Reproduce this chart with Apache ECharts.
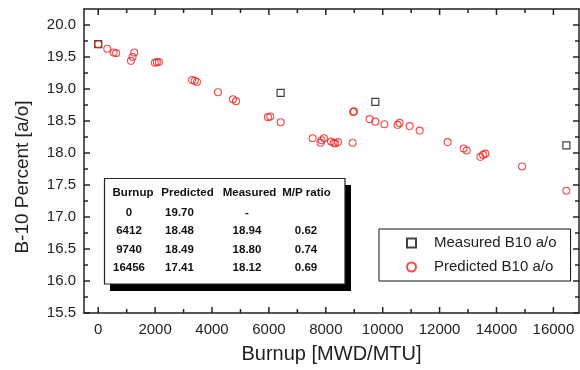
<!DOCTYPE html>
<html>
<head>
<meta charset="utf-8">
<script src="https://cdn.jsdelivr.net/npm/echarts@6/dist/echarts.min.js"></script>
<style>
  html, body { margin: 0; padding: 0; background: #fff; }
  #chart { width: 580px; height: 370px; }
</style>
</head>
<body>
<div id="chart"></div>
<script>
// burnup [MWD/MTU], B-10 percent
const measuredBurnup = [0, 6412, 9740, 16456];
const measuredB10 = [19.70, 18.94, 18.80, 18.12];

const predictedBurnup = [
  0, 316, 540, 630, 1150, 1207, 1266, 1990, 2060, 2130,
  3300, 3390, 3470, 4208, 4736, 4842, 5966, 6048, 6412,
  7535, 7817, 7852, 7935, 8182, 8274, 8333, 8428, 8942, 8960, 8990,
  9540, 9740, 10060, 10524, 10594, 10946, 11297, 12282, 12845, 12951,
  13432, 13526, 13608, 14898, 16456
];
const predictedB10 = [
  19.70, 19.63, 19.57, 19.56, 19.44, 19.50, 19.57, 19.41, 19.42, 19.42,
  19.14, 19.13, 19.11, 18.95, 18.84, 18.81, 18.56, 18.57, 18.48,
  18.23, 18.16, 18.20, 18.23, 18.18, 18.16, 18.15, 18.17, 18.16, 18.64, 18.65,
  18.53, 18.49, 18.45, 18.44, 18.47, 18.42, 18.35, 18.17, 18.07, 18.04,
  17.94, 17.97, 17.99, 17.79, 17.41
];

// tick positions
const xMajorTicks = [0, 2000, 4000, 6000, 8000, 10000, 12000, 14000, 16000];
const xMinorTicks = [1000, 3000, 5000, 7000, 9000, 11000, 13000, 15000];
const yMajorTicks = [15.5, 16.0, 16.5, 17.0, 17.5, 18.0, 18.5, 19.0, 19.5, 20.0];
const yMinorTicks = [15.75, 16.25, 16.75, 17.25, 17.75, 18.25, 18.75, 19.25, 19.75];

// inset table
const tableHeader = ["Burnup", "Predicted", "Measured", "M/P ratio"];
const tableBurnup = ["0", "6412", "9740", "16456"];
const tablePredicted = ["19.70", "18.48", "18.49", "17.41"];
const tableMeasured = ["-", "18.94", "18.80", "18.12"];
const tableRatio = ["", "0.62", "0.74", "0.69"];

const FONT = "Liberation Sans";
const AXIS_COLOR = "#222";
const X_MIN = -500, X_MAX = 16900;
const Y_MIN = 15.5, Y_MAX = 20.25;
const MAJOR = 6, MINOR = 4;

function toPairs(xs, ys) {
  return xs.map((x, i) => [x, ys[i]]);
}

function xAxisDef(position) {
  const labelled = position === "bottom";
  return {
    type: "value",
    position: position,
    min: X_MIN,
    max: X_MAX,
    axisLine: { show: true, onZero: false, lineStyle: { color: AXIS_COLOR, width: 1.5 } },
    axisTick: { show: false },
    axisLabel: {
      show: labelled,
      customValues: xMajorTicks,
      margin: 9,
      color: AXIS_COLOR,
      fontFamily: FONT,
      fontSize: 15,
      formatter: (v) => String(v),
    },
    splitLine: { show: false },
    name: labelled ? "Burnup [MWD/MTU]" : "",
    nameLocation: "middle",
    nameGap: 31,
    nameTextStyle: { fontFamily: FONT, fontSize: 20, color: AXIS_COLOR },
  };
}

function yAxisDef(position) {
  const labelled = position === "left";
  return {
    type: "value",
    position: position,
    min: Y_MIN,
    max: Y_MAX,
    axisLine: { show: true, onZero: false, lineStyle: { color: AXIS_COLOR, width: 1.5 } },
    axisTick: { show: false },
    axisLabel: {
      show: labelled,
      customValues: yMajorTicks,
      margin: 8,
      color: AXIS_COLOR,
      fontFamily: FONT,
      fontSize: 15,
      formatter: (v) => v.toFixed(1),
    },
    splitLine: { show: false },
    name: labelled ? "B-10 Percent [a/o]" : "",
    nameLocation: "middle",
    nameGap: 52,
    nameTextStyle: { fontFamily: FONT, fontSize: 19, color: AXIS_COLOR, padding: [0, 32, 0, 0] },
  };
}

// table graphic built from the arrays
const colHeadX = [133, 187.5, 249.5, 306.5];
const colValX = [129, 179.5, 247, 306];
const headY = 193;
const rowY = [212.5, 231, 249.5, 268];
const tableGraphic = [
  { type: "rect", shape: { x: 110, y: 185, width: 241, height: 106 }, style: { fill: "#000" }, z: 100 },
  { type: "rect", shape: { x: 104.5, y: 178.5, width: 240.5, height: 105.5 }, style: { fill: "#fff", stroke: "#222", lineWidth: 1.2 }, z: 101 },
];
tableHeader.forEach((h, c) => {
  tableGraphic.push({
    type: "text", x: colHeadX[c], y: headY, z: 102,
    style: { text: h, font: "bold 11.5px " + FONT, fill: "#111", align: "center", verticalAlign: "middle" },
  });
});
[tableBurnup, tablePredicted, tableMeasured, tableRatio].forEach((col, c) => {
  col.forEach((v, r) => {
    tableGraphic.push({
      type: "text", x: colValX[c], y: rowY[r], z: 102,
      style: { text: v, font: "bold 11.5px " + FONT, fill: "#111", align: "center", verticalAlign: "middle" },
    });
  });
});

const chart = echarts.init(document.getElementById("chart"));
chart.setOption({
  backgroundColor: "#fff",
  animation: false,
  grid: { left: 84, right: 1, top: 9, bottom: 57 },
  xAxis: [xAxisDef("bottom"), xAxisDef("top")],
  yAxis: [yAxisDef("left"), yAxisDef("right")],
  legend: {
    orient: "vertical",
    left: 379,
    top: 229,
    padding: [5, 14, 5, 27],
    itemWidth: 9,
    itemHeight: 9,
    itemGap: 6,
    borderColor: "#111",
    borderWidth: 1,
    backgroundColor: "#fff",
    textStyle: { fontFamily: FONT, fontSize: 15, color: AXIS_COLOR, lineHeight: 18, padding: [0, 0, 0, 13] },
    data: ["Measured B10 a/o", "Predicted B10 a/o"],
  },
  series: [
    {
      name: "Measured B10 a/o",
      type: "scatter",
      symbol: "rect",
      symbolSize: 7,
      itemStyle: { color: "rgba(255,255,255,0)", borderColor: "#111", borderWidth: 1.2 },
      data: toPairs(measuredBurnup, measuredB10),
    },
    {
      name: "Predicted B10 a/o",
      type: "scatter",
      symbol: "circle",
      symbolSize: 7,
      itemStyle: { color: "rgba(255,255,255,0)", borderColor: "#ee2020", borderWidth: 1.1 },
      data: toPairs(predictedBurnup, predictedB10),
    },
  ],
});

// inward ticks on all four sides, placed with the chart's own axis conversion
function px(x, y) {
  return chart.convertToPixel({ gridIndex: 0 }, [x, y]);
}
function tickLine(p, dx, dy) {
  return {
    type: "line", z: 50, silent: true,
    shape: { x1: p[0], y1: p[1], x2: p[0] + dx, y2: p[1] + dy },
    style: { stroke: AXIS_COLOR, lineWidth: 1.5 },
  };
}
const tickGraphic = [];
function addXTicks(values, len) {
  values.forEach((v) => {
    tickGraphic.push(tickLine(px(v, Y_MIN), 0, -len));
    tickGraphic.push(tickLine(px(v, Y_MAX), 0, len));
  });
}
function addYTicks(values, len) {
  values.forEach((v) => {
    tickGraphic.push(tickLine(px(X_MIN, v), len, 0));
    tickGraphic.push(tickLine(px(X_MAX, v), -len, 0));
  });
}
addXTicks(xMajorTicks, MAJOR);
addXTicks(xMinorTicks, MINOR);
addYTicks(yMajorTicks, MAJOR);
addYTicks(yMinorTicks, MINOR);

chart.setOption({ graphic: tableGraphic.concat(tickGraphic) });
</script>
</body>
</html>
